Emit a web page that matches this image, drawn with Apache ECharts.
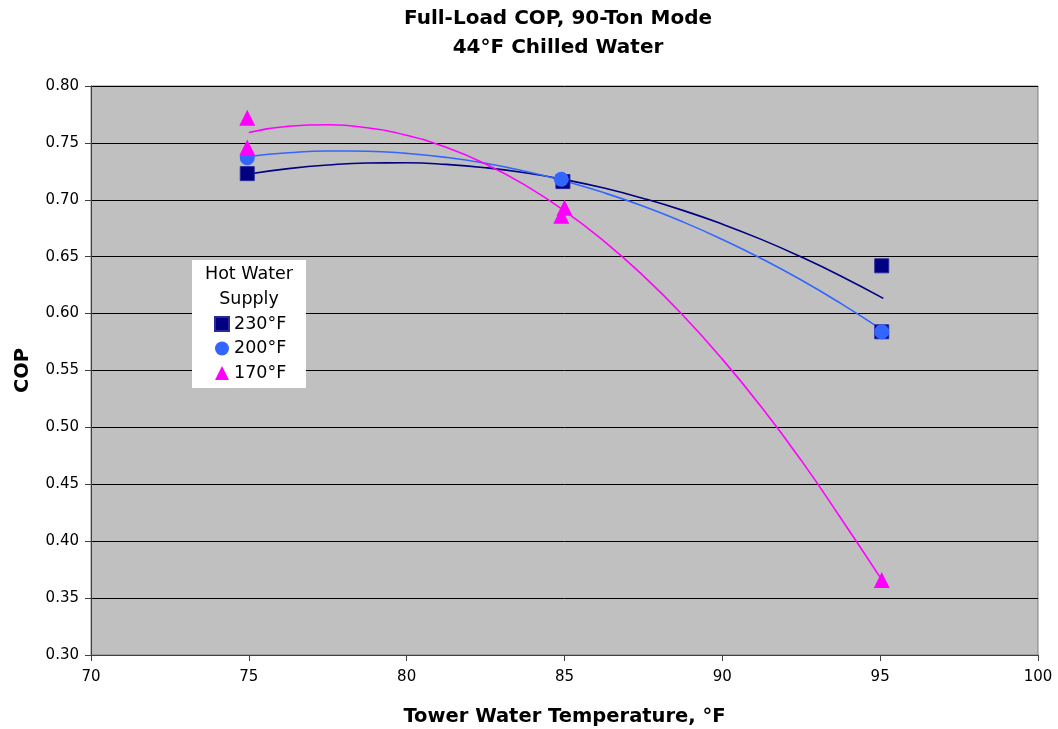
<!DOCTYPE html>
<html>
<head>
<meta charset="utf-8">
<script src="https://cdn.jsdelivr.net/npm/echarts@6/dist/echarts.min.js"></script>
<style>
html,body{margin:0;padding:0;background:#fff;}
#chart{width:1058px;height:729px;}
</style>
</head>
<body>
<div id="chart"></div>
<script>
// Measured points (Tower water temp °F, COP)
const x230 = [74.95, 84.95, 95.05, 95.05];
const y230 = [0.723, 0.716, 0.642, 0.584];
const x200 = [74.95, 84.9, 95.05];
const y200 = [0.737, 0.718, 0.584];
const x170 = [74.95, 74.95, 84.9, 85.0, 95.05];
const y170 = [0.772, 0.746, 0.686, 0.693, 0.366];

// Trendline values
const trendX = [75, 76.25, 77.5, 78.75, 80, 81.25, 82.5, 83.75, 85, 86.25, 87.5, 88.75, 90, 91.25, 92.5, 93.75, 95.1];
const trend230 = [0.7227, 0.7274, 0.7306, 0.7323, 0.7325, 0.7311, 0.7282, 0.7238, 0.7178, 0.7103, 0.7012, 0.6907, 0.6786, 0.6650, 0.6498, 0.6331, 0.6134];
const trend200 = [0.7381, 0.7413, 0.7429, 0.7427, 0.7408, 0.7373, 0.7321, 0.7251, 0.7165, 0.7062, 0.6943, 0.6806, 0.6652, 0.6482, 0.6295, 0.6090, 0.5851];
const trend170 = [0.7592, 0.7646, 0.7659, 0.7633, 0.7567, 0.7461, 0.7315, 0.7129, 0.6903, 0.6637, 0.6331, 0.5986, 0.5600, 0.5175, 0.4710, 0.4204, 0.3640];

const seriesNames = ['230°F', '200°F', '170°F'];
const colors = ['#000080', '#3366FF', '#FF00FF'];
const xTicks = [70, 75, 80, 85, 90, 95, 100];

function pairs(xs, ys) { return xs.map((x, i) => [x, ys[i]]); }

const chart = echarts.init(document.getElementById('chart'));
const font = '"DejaVu Sans", Arial, sans-serif';

chart.setOption({
  animation: false,
  backgroundColor: '#ffffff',
  title: {
    text: 'Full-Load COP, 90-Ton Mode\n44°F Chilled Water',
    left: 553, top: -1, textAlign: 'center',
    textStyle: { fontFamily: font, fontSize: 20, fontWeight: 'bold', color: '#000', lineHeight: 29 }
  },
  grid: {
    left: 91, right: 20, top: 86, bottom: 74,
    show: true, backgroundColor: '#c0c0c0', borderColor: '#808080', borderWidth: 1,
    outerBoundsMode: 'none', containLabel: false
  },
  xAxis: {
    type: 'value', min: 70, max: 100, interval: 5,
    name: 'Tower Water Temperature, °F', nameLocation: 'middle', nameGap: 52,
    nameTextStyle: { fontFamily: font, fontSize: 19.5, fontWeight: 'bold', color: '#000' },
    axisLine: { show: true, lineStyle: { color: '#404040', width: 1 } },
    axisTick: { show: true, inside: false, length: 6, lineStyle: { color: '#404040' } },
    axisLabel: { fontFamily: font, fontSize: 15, color: '#000', margin: 15,
      formatter: v => xTicks.includes(v) ? String(v) : '' },
    splitLine: { show: false }
  },
  yAxis: {
    type: 'value', min: 0.30, max: 0.80, interval: 0.05,
    name: 'COP', nameLocation: 'middle', nameGap: 58, nameRotate: 90,
    nameTextStyle: { fontFamily: font, fontSize: 19.5, fontWeight: 'bold', color: '#000' },
    axisLine: { show: true, lineStyle: { color: '#404040', width: 1 } },
    axisTick: { show: true, inside: false, length: 6, lineStyle: { color: '#404040' } },
    axisLabel: { fontFamily: font, fontSize: 15, color: '#000', margin: 12,
      formatter: v => v.toFixed(2) },
    splitLine: { show: true, lineStyle: { color: '#000000', width: 1 } }
  },
  legend: {
    data: [
      { name: seriesNames[0], icon: 'rect' },
      { name: seriesNames[1], icon: 'circle' },
      { name: seriesNames[2], icon: 'triangle' }
    ],
    orient: 'vertical', left: 209, top: 310,
    itemWidth: 14, itemHeight: 14, itemGap: 6.5,
    textStyle: { fontFamily: font, fontSize: 17.5, color: '#000' },
    selectedMode: false, z: 10
  },
  graphic: [
    { type: 'rect', left: 192, top: 260, z: 5,
      shape: { width: 114, height: 128 }, style: { fill: '#ffffff', stroke: null } },
    { type: 'text', x: 249, y: 262, z: 6,
      style: { text: 'Hot Water\nSupply', fill: '#000', font: '17.5px ' + font, align: 'center', textAlign: 'center', lineHeight: 25 } }
  ],
  series: [
    { name: 'trend230', type: 'line', data: pairs(trendX, trend230), smooth: true, showSymbol: false,
      lineStyle: { color: colors[0], width: 1.6 }, z: 2, silent: true },
    { name: 'trend200', type: 'line', data: pairs(trendX, trend200), smooth: true, showSymbol: false,
      lineStyle: { color: colors[1], width: 1.6 }, z: 2, silent: true },
    { name: 'trend170', type: 'line', data: pairs(trendX, trend170), smooth: true, showSymbol: false,
      lineStyle: { color: colors[2], width: 1.6 }, z: 2, silent: true },
    { name: seriesNames[0], type: 'scatter', symbol: 'rect', symbolSize: 14,
      itemStyle: { color: colors[0], borderColor: '#2a2a9a', borderWidth: 1, opacity: 1 }, data: pairs(x230, y230), z: 3 },
    { name: seriesNames[1], type: 'scatter', symbol: 'circle', symbolSize: 15,
      itemStyle: { color: colors[1], opacity: 1 }, data: pairs(x200, y200), z: 4 },
    { name: seriesNames[2], type: 'scatter', symbol: 'triangle', symbolSize: 16,
      itemStyle: { color: colors[2], opacity: 1 }, data: pairs(x170, y170), z: 5 }
  ]
});
</script>
</body>
</html>
